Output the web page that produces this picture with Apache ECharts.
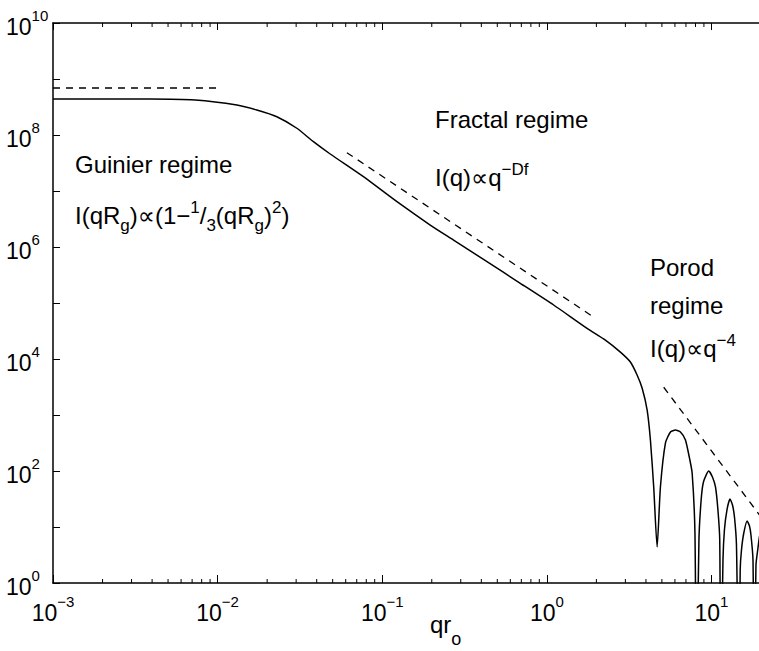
<!DOCTYPE html>
<html><head><meta charset="utf-8">
<script src="https://cdn.jsdelivr.net/npm/echarts@6/dist/echarts.min.js"></script>
<style>html,body{margin:0;padding:0;background:#fff}#c{width:759px;height:651px}</style>
</head><body><div id="c"></div>
<script>
// ---- data ----
const curveX = [0.001, 0.00389, 0.0073, 0.0131, 0.0173, 0.0229, 0.0303, 0.0382, 0.0483, 0.0769, 0.1229, 0.1957, 0.2713, 0.433, 0.69, 1.1, 1.756, 2.268, 2.798, 3.218, 3.534, 3.791, 4.066, 4.258, 4.459, 4.677, 4.898, 5.253, 5.636, 6.042, 6.481, 6.95, 7.352, 7.634, 7.939, 8.108, 8.395, 8.657, 8.941, 9.63, 10.14, 10.58, 10.95, 11.23, 11.39, 11.75, 11.99, 12.42, 12.96, 13.42, 13.8, 14.19, 14.66, 14.95, 15.22, 15.72, 16.48, 17.02, 17.38, 17.88, 18.18, 18.64, 19.17, 19.57, 20];
const curveY = [4.4e8, 4.4e8, 4.22e8, 3.43e8, 2.79e8, 2.12e8, 1.32e8, 7.59e7, 4.58e7, 1.8e7, 6.44e6, 2.47e6, 1.33e6, 5.47e5, 2.25e5, 9.21e4, 3.53e4, 2.18e4, 1.33e4, 8840, 5180, 3030, 1230, 358, 51.8, 4.39, 51.8, 316, 497, 540, 497, 358, 171, 92.1, 7.81, 0.01, 5.86, 30.3, 63.7, 100, 78.1, 51.8, 20.1, 5.86, 0.01, 2.58, 8.84, 20.1, 31.6, 24.7, 15.1, 4.77, 0.01, 1.71, 3.88, 7.81, 12.8, 10.4, 7.19, 2.58, 0.01, 2.1, 4.22, 6.63, 8.5];
const guinierX = [0.001, 0.0099];
const guinierY = [6.9e8, 6.9e8];
const fractalX = [0.061, 1.88];
const fractalY = [4.83e7, 5.86e4];
const porodX = [5.13, 20];
const porodY = [3130, 15.1];
const xMin = 0.001, xMax = 20, yMin = 1, yMax = 1e10;
const xTickExps = [-3, -2, -1, 0, 1];
const yLabelExps = [0, 2, 4, 6, 8, 10];
const minorMultipliers = [2, 3, 4, 5, 6, 7, 8, 9];
const minorDecades = [-3, -2, -1, 0, 1];

// ---- annotation texts: [text, kind] ----
const txtGuinier = [['Guinier regime', 'b']];
const txtGuinierLaw = [['I(qR', 'b'], ['g', 'sub'], [')\u221D(1\u2212', 'b'], ['1', 'sup'], ['/', 'b'], ['3', 'sub'], ['(qR', 'b'], ['g', 'sub'], [')', 'b'], ['2', 'sup'], [')', 'b']];
const txtFractal = [['Fractal regime', 'b']];
const txtFractalLaw = [['I(q)\u221Dq', 'b'], ['\u2212Df', 'sup']];
const txtPorod1 = [['Porod', 'b']];
const txtPorod2 = [['regime', 'b']];
const txtPorodLaw = [['I(q)\u221Dq', 'b'], ['\u22124', 'sup']];
const txtXName = [['qr', 'b'], ['o', 'subx']];

const FONT = "'Liberation Sans', Arial, Helvetica, 'DejaVu Sans', sans-serif";
const canvas = document.createElement('canvas');
const ctx = canvas.getContext('2d');
function measure(t, fs) { ctx.font = fs + 'px ' + FONT; return ctx.measureText(t).width; }
const KIND = { b: { fs: 24, dy: 0 }, sub: { fs: 17, dy: 8 }, subx: { fs: 18, dy: 13 }, sup: { fs: 17, dy: -10 } };
function line(x0, baseline, segs) {
  const out = []; let x = x0;
  segs.forEach(([t, k]) => {
    const s = KIND[k];
    out.push({ type: 'text', x: x, y: baseline + s.dy - 0.31 * s.fs, silent: true,
      style: { text: t, fontSize: s.fs, fontFamily: FONT, fill: '#000', align: 'left', verticalAlign: 'middle', textAlign: 'left', textVerticalAlign: 'middle' } });
    x += measure(t, s.fs);
  });
  return out;
}

const minorTicks = [];
minorDecades.forEach(d => minorMultipliers.forEach(m => { const v = m * Math.pow(10, d); if (v < xMax) minorTicks.push([v, yMin]); }));

function expOf(v) { const l = Math.log10(v); const e = Math.round(l); return Math.abs(l - e) < 0.01 ? e : null; }
const rich = {
  b: { fontSize: 23, lineHeight: 30, verticalAlign: 'bottom', fontFamily: FONT, color: '#000' },
  s: { fontSize: 15, lineHeight: 12, verticalAlign: 'top', fontFamily: FONT, color: '#000' }
};
function supLabel(e) { return '{b|10}{s|' + (e < 0 ? '\u2212' + (-e) : e) + '}'; }

const chart = echarts.init(document.getElementById('c'), null, { renderer: 'svg' });
const axisLineStyle = { color: '#000', width: 1.5 };
chart.setOption({
  animation: false,
  backgroundColor: '#fff',
  grid: { left: 53, top: 23, right: -2, bottom: 68, containLabel: false, outerBoundsMode: 'none' },
  xAxis: [{
    type: 'log', logBase: 10, min: xMin, max: xMax, interval: 1, splitNumber: 4, position: 'bottom',
    axisLine: { lineStyle: axisLineStyle }, splitLine: { show: false },
    axisTick: { inside: true, length: 8, lineStyle: { color: '#000', width: 1 } },
    axisLabel: { margin: 11, rich: rich, formatter: v => { const e = expOf(v); return (e !== null && xTickExps.includes(e)) ? supLabel(e) : ''; } }
  }, {
    type: 'log', logBase: 10, min: xMin, max: xMax, interval: 1, splitNumber: 4, position: 'top',
    axisLine: { lineStyle: axisLineStyle }, splitLine: { show: false },
    axisTick: { inside: true, length: 7, lineStyle: { color: '#000', width: 1 } },
    axisLabel: { show: false }
  }],
  yAxis: [{
    type: 'log', logBase: 10, min: yMin, max: yMax, interval: 1, splitNumber: 10,
    axisLine: { lineStyle: axisLineStyle }, splitLine: { show: false },
    axisTick: { inside: true, length: 7, lineStyle: { color: '#000', width: 1 } },
    axisLabel: { margin: 47, align: 'left', rich: rich, formatter: v => { const e = expOf(v); return (e !== null && yLabelExps.includes(e)) ? supLabel(e) : ''; } }
  }],
  series: [
    { type: 'line', name: 'I(q)', data: curveX.map((x, i) => [x, curveY[i]]), showSymbol: false, clip: true, smooth: 0.2,
      lineStyle: { color: '#000', width: 1.5 } },
    { type: 'line', name: 'Guinier', data: guinierX.map((x, i) => [x, guinierY[i]]), showSymbol: false,
      lineStyle: { color: '#000', width: 1.3, type: [7, 6] } },
    { type: 'line', name: 'Fractal', data: fractalX.map((x, i) => [x, fractalY[i]]), showSymbol: false,
      lineStyle: { color: '#000', width: 1.3, type: [7, 6] } },
    { type: 'line', name: 'Porod', data: porodX.map((x, i) => [x, porodY[i]]), showSymbol: false, clip: true,
      lineStyle: { color: '#000', width: 1.3, type: [7, 6] } },
    { type: 'custom', name: 'minorTicks', silent: true, clip: false, data: minorTicks,
      renderItem: (params, api) => {
        const x = api.value(0);
        const b = api.coord([x, yMin]); const t = api.coord([x, yMax]);
        return { type: 'group', children: [
          { type: 'line', shape: { x1: b[0], y1: b[1], x2: b[0], y2: b[1] - 4 }, style: { stroke: '#000', lineWidth: 1 } },
          { type: 'line', shape: { x1: t[0], y1: t[1], x2: t[0], y2: t[1] + 4 }, style: { stroke: '#000', lineWidth: 1 } }
        ] };
      } }
  ],
  graphic: [].concat(
    line(75, 172, txtGuinier),
    line(75, 223, txtGuinierLaw),
    line(435, 127, txtFractal),
    line(435, 185, txtFractalLaw),
    line(650, 275, txtPorod1),
    line(650, 313, txtPorod2),
    line(650, 356, txtPorodLaw),
    line(430, 632, txtXName)
  )
});
</script></body></html>
